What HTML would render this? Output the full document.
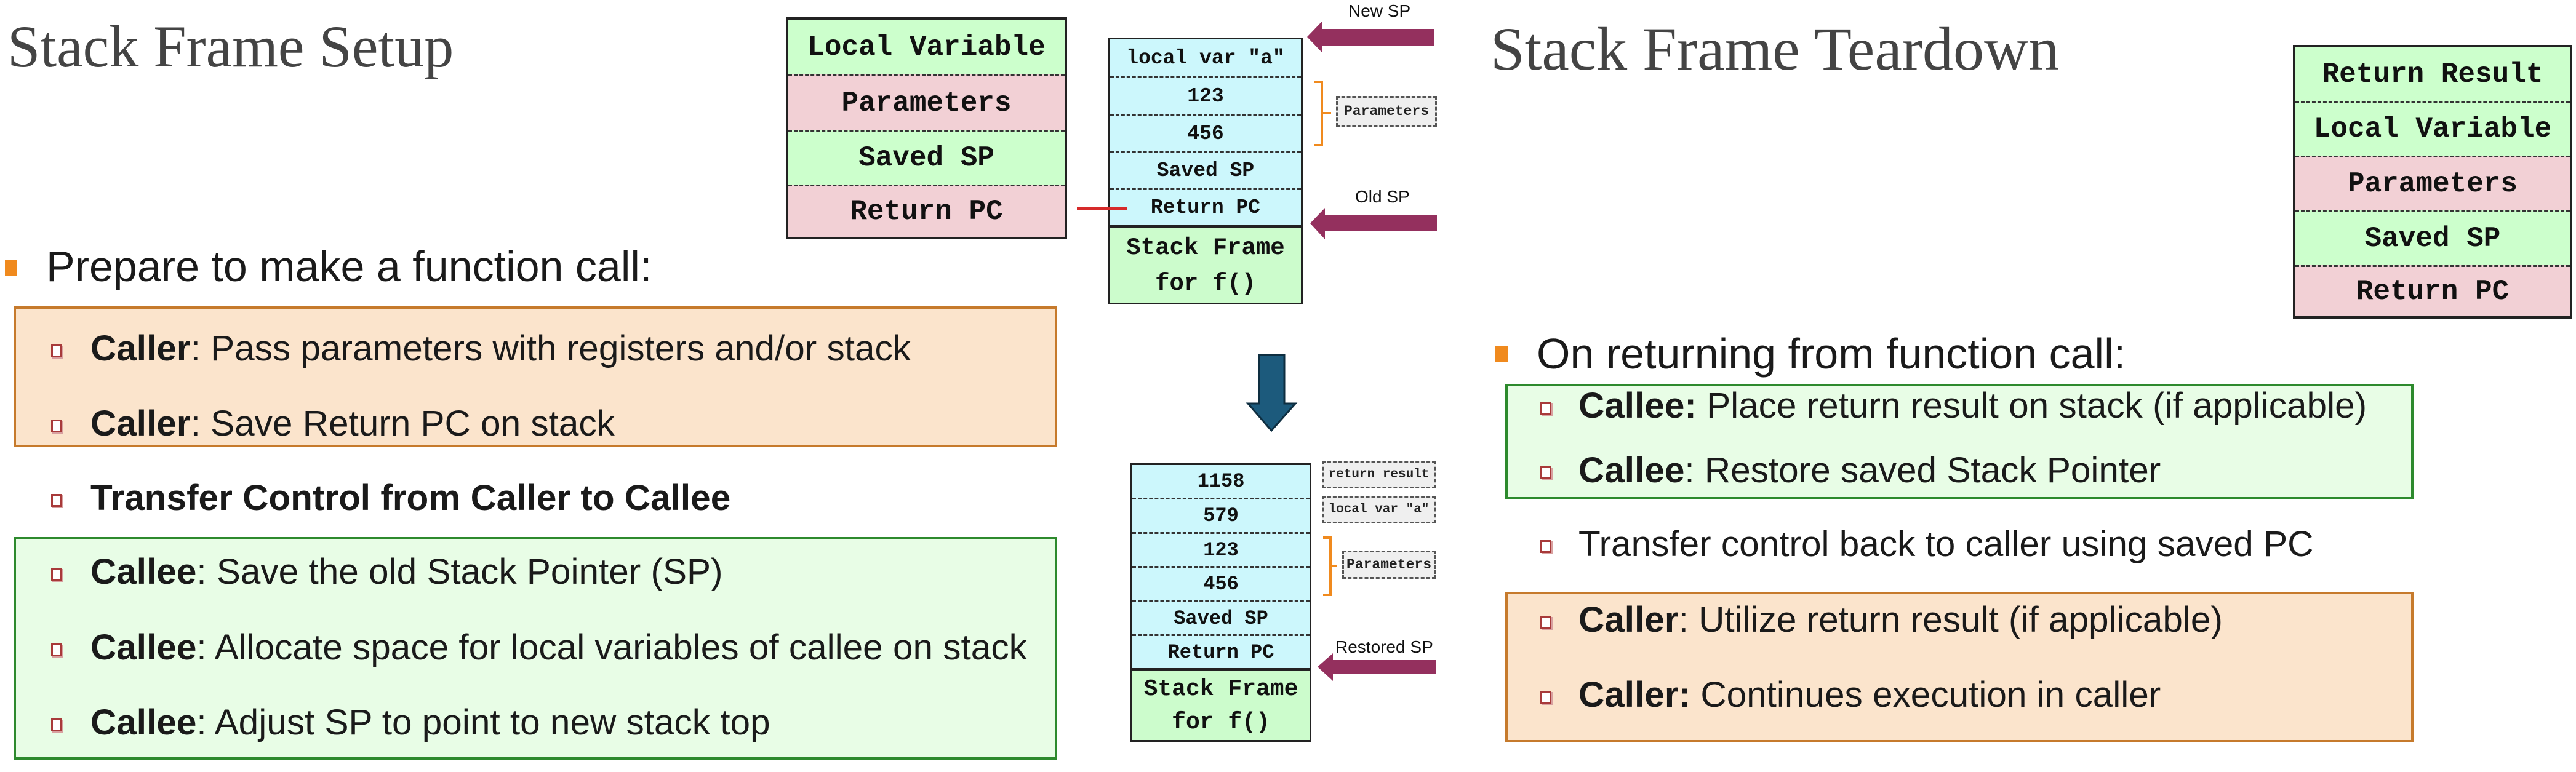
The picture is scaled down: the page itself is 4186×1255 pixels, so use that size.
<!DOCTYPE html>
<html><head><meta charset="utf-8"><style>
body{margin:0;width:4186px;height:1255px;background:#fff;position:relative;overflow:hidden;font-family:"Liberation Sans",sans-serif;}
.a{position:absolute;}
.t{position:absolute;white-space:nowrap;height:80px;line-height:80px;color:#1a1a1a;}
.big{font-size:70px;}
.it{font-size:58.5px;}
.sq{position:absolute;width:12px;height:15px;border:3px solid #a83a3a;background:#fff;box-shadow:2px 2px 0 #d8a0a0;}
.ob{position:absolute;width:20px;height:26px;background:#f08a1e;}
.stk{position:absolute;border:4px solid #222;box-sizing:border-box;}
.row{box-sizing:border-box;display:flex;align-items:center;justify-content:center;font-family:"Liberation Mono",monospace;font-weight:bold;color:#111;white-space:nowrap;}
.sf{box-sizing:border-box;display:block;text-align:center;font-family:"Liberation Mono",monospace;font-weight:bold;color:#111;white-space:nowrap;}
.dd{border-top:3px dashed #333;}
.lab{position:absolute;border:3px dashed #555;background:#efefef;box-sizing:border-box;display:flex;align-items:center;justify-content:center;font-family:"Liberation Mono",monospace;font-weight:bold;font-size:23px;color:#222;white-space:nowrap;}
.sp{position:absolute;font-size:28px;color:#111;white-space:nowrap;}
</style></head><body>

<div class="a" style="left:12px;top:20px;font-family:'Liberation Serif',serif;font-size:96px;color:#444;white-space:nowrap;">Stack Frame Setup</div>
<div class="a" style="left:2422px;top:22px;font-family:'Liberation Serif',serif;font-size:100px;color:#444;white-space:nowrap;">Stack Frame Teardown</div>

<!-- Left stack -->
<div class="stk" style="left:1277px;top:28px;width:457px;height:361px;">
<div class="row" style="height:89px;background:#ccffcc;font-size:46px;">Local Variable</div>
<div class="row dd" style="height:90px;background:#f2d0d5;font-size:46px;">Parameters</div>
<div class="row dd" style="height:89px;background:#ccffcc;font-size:46px;">Saved SP</div>
<div class="row dd" style="height:85px;background:#f2d0d5;font-size:46px;">Return PC</div>
</div>

<!-- middle stack 1 -->
<div class="stk" style="left:1801px;top:61px;width:316px;height:434px;border-width:3px;">
<div class="row" style="height:60px;background:#ccf7fc;font-size:33px;">local var "a"</div>
<div class="row dd" style="height:62px;background:#ccf7fc;font-size:33px;">123</div>
<div class="row dd" style="height:59px;background:#ccf7fc;font-size:33px;">456</div>
<div class="row dd" style="height:61px;background:#ccf7fc;font-size:33px;">Saved SP</div>
<div class="row dd" style="height:60px;background:#ccf7fc;font-size:33px;">Return PC</div>
<div class="sf" style="height:126px;border-top:4px solid #222;background:#ccfccc;font-size:39px;line-height:58px;padding-top:4px;">Stack Frame<br>for f()</div>
</div>
<div class="a" style="left:1750px;top:337px;width:82px;height:4px;background:#d62a2a;"></div>
<div class="lab" style="left:2171px;top:156px;width:164px;height:50px;">Parameters</div>
<div class="sp" style="left:2191px;top:2px;">New SP</div>
<div class="sp" style="left:2202px;top:304px;">Old SP</div>
<div class="sp" style="left:2170px;top:1036px;">Restored SP</div>

<!-- lower stack -->
<div class="stk" style="left:1837px;top:753px;width:294px;height:453px;border-width:3px;">
<div class="row" style="height:53px;background:#ccf7fc;font-size:32px;">1158</div>
<div class="row dd" style="height:56px;background:#ccf7fc;font-size:32px;">579</div>
<div class="row dd" style="height:55px;background:#ccf7fc;font-size:32px;">123</div>
<div class="row dd" style="height:56px;background:#ccf7fc;font-size:32px;">456</div>
<div class="row dd" style="height:55px;background:#ccf7fc;font-size:32px;">Saved SP</div>
<div class="row dd" style="height:55px;background:#ccf7fc;font-size:32px;">Return PC</div>
<div class="sf" style="height:117px;border-top:4px solid #222;background:#ccfccc;font-size:38px;line-height:54px;padding-top:4px;">Stack Frame<br>for f()</div>
</div>
<div class="lab" style="left:2148px;top:749px;width:185px;height:45px;font-size:21px;">return result</div>
<div class="lab" style="left:2148px;top:806px;width:185px;height:45px;font-size:21px;">local var "a"</div>
<div class="lab" style="left:2181px;top:895px;width:152px;height:46px;">Parameters</div>

<svg class="a" style="left:0;top:0" width="4186" height="1255">
<g fill="#94305e">
<polygon points="2124,60 2148,35 2148,47 2330,47 2330,74 2148,74 2148,85"/>
<polygon points="2129,363 2153,338 2153,350 2335,350 2335,375 2153,375 2153,389"/>
<polygon points="2141,1084 2166,1062 2166,1073 2334,1073 2334,1096 2166,1096 2166,1107"/>
</g>
<g fill="none" stroke="#f08a1e" stroke-width="4">
<path d="M2135,133 H2148 V236 H2135 M2148,184 H2163"/>
<path d="M2150,874 H2162 V967 H2150 M2162,920 H2173"/>
</g>
<polygon points="2046,577 2087,577 2087,656 2105,656 2066,700 2028,656 2046,656" fill="#1c5a7c" stroke="#0e2e40" stroke-width="3"/>
</svg>

<!-- Right stack -->
<div class="stk" style="left:3726px;top:73px;width:454px;height:445px;">
<div class="row" style="height:87px;background:#ccffcc;font-size:46px;">Return Result</div>
<div class="row dd" style="height:89px;background:#ccffcc;font-size:46px;">Local Variable</div>
<div class="row dd" style="height:89px;background:#f2d0d5;font-size:46px;">Parameters</div>
<div class="row dd" style="height:89px;background:#ccffcc;font-size:46px;">Saved SP</div>
<div class="row dd" style="height:83px;background:#f2d0d5;font-size:46px;">Return PC</div>
</div>

<!-- Left text -->
<div class="ob" style="left:8px;top:422px;"></div>
<div class="t big" style="left:75px;top:393px;">Prepare to make a function call:</div>
<div class="a" style="left:22px;top:498px;width:1696px;height:229px;box-sizing:border-box;background:#fbe4cc;border:4px solid #c67a2c;"></div>
<div class="sq" style="left:83px;top:560px;"></div>
<div class="t it" style="left:147px;top:527px;"><b>Caller</b>: Pass parameters with registers and/or stack</div>
<div class="sq" style="left:83px;top:682px;"></div>
<div class="t it" style="left:147px;top:649px;"><b>Caller</b>: Save Return PC on stack</div>
<div class="sq" style="left:83px;top:803px;"></div>
<div class="t it" style="left:147px;top:770px;font-weight:bold;">Transfer Control from Caller to Callee</div>
<div class="a" style="left:22px;top:873px;width:1696px;height:362px;box-sizing:border-box;background:#e8fde6;border:4px solid #2d8a2d;"></div>
<div class="sq" style="left:83px;top:923px;"></div>
<div class="t it" style="left:147px;top:890px;"><b>Callee</b>: Save the old Stack Pointer (SP)</div>
<div class="sq" style="left:83px;top:1046px;"></div>
<div class="t it" style="left:147px;top:1013px;"><b>Callee</b>: Allocate space for local variables of callee on stack</div>
<div class="sq" style="left:83px;top:1168px;"></div>
<div class="t it" style="left:147px;top:1135px;"><b>Callee</b>: Adjust SP to point to new stack top</div>

<!-- Right text -->
<div class="ob" style="left:2430px;top:562px;"></div>
<div class="t big" style="left:2497px;top:535px;">On returning from function call:</div>
<div class="a" style="left:2446px;top:624px;width:1476px;height:188px;box-sizing:border-box;background:#e8fde6;border:4px solid #2d8a2d;"></div>
<div class="sq" style="left:2503px;top:653px;"></div>
<div class="t it" style="left:2565px;top:620px;"><b>Callee:</b> Place return result on stack (if applicable)</div>
<div class="sq" style="left:2503px;top:758px;"></div>
<div class="t it" style="left:2565px;top:725px;"><b>Callee</b>: Restore saved Stack Pointer</div>
<div class="sq" style="left:2503px;top:878px;"></div>
<div class="t it" style="left:2565px;top:845px;">Transfer control back to caller using saved PC</div>
<div class="a" style="left:2446px;top:962px;width:1476px;height:245px;box-sizing:border-box;background:#fbe4cc;border:4px solid #c67a2c;"></div>
<div class="sq" style="left:2503px;top:1001px;"></div>
<div class="t it" style="left:2565px;top:968px;"><b>Caller</b>: Utilize return result (if applicable)</div>
<div class="sq" style="left:2503px;top:1123px;"></div>
<div class="t it" style="left:2565px;top:1090px;"><b>Caller:</b> Continues execution in caller</div>
</body></html>
